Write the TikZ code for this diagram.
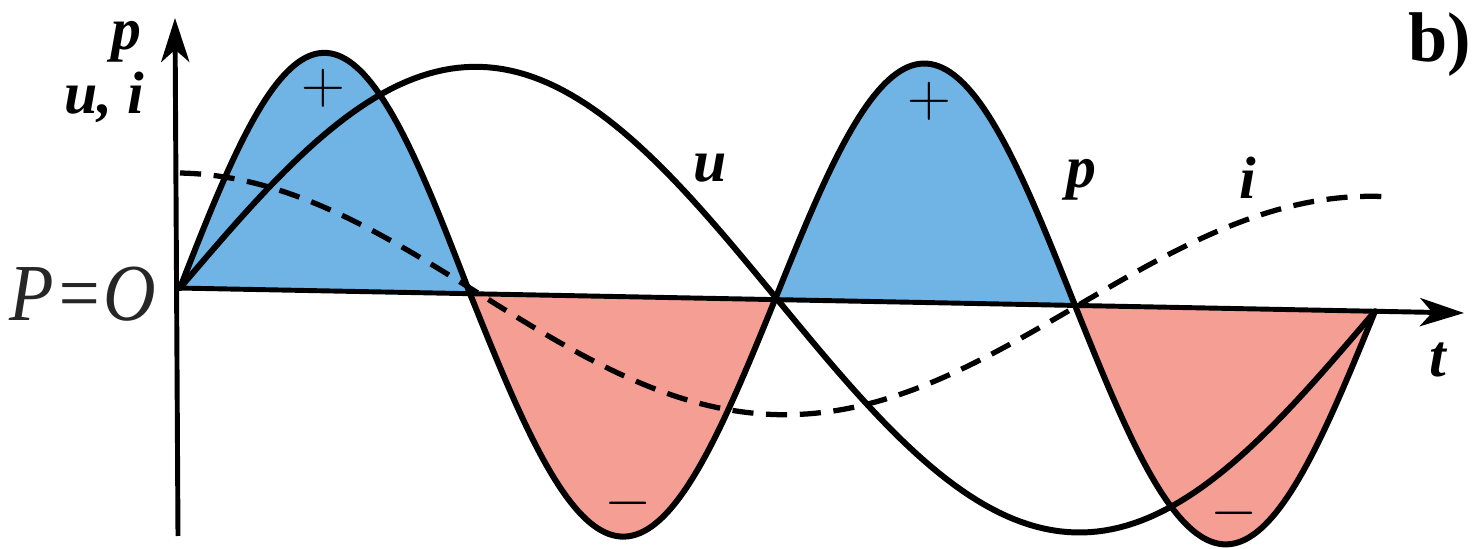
\documentclass[tikz,border=0pt]{standalone}
\usepackage{fontspec}
\setmainfont{Liberation Serif}
\usetikzlibrary{arrows.meta}
\definecolor{posfill}{RGB}{112,180,230}
\definecolor{negfill}{RGB}{245,158,148}
\begin{document}
\begin{tikzpicture}[x=0.01cm,y=-0.01cm,
  declare function={bl(\s)=288+0.0195*(\s-180);},
  curve/.style={line width=1.7pt,line join=round,line cap=round},
  icurve/.style={line width=1.5pt,dash pattern=on 6pt off 3.6pt},
  axisline/.style={line width=1.4pt,-{Stealth[length=12.5pt,width=8pt,inset=3.5pt]}},
  lbl/.style={font=\fontsize{17}{17}\selectfont\bfseries\itshape,inner sep=0pt},
  sign/.style={font=\fontsize{19}{19}\selectfont,inner sep=0pt}]
\useasboundingbox (0,0) rectangle (1472,549);
% fills
\fill[posfill] plot[domain=180:470,samples=80] (\x,{bl(\x)-238*sin((\x-180)/290*180)}) -- cycle;
\fill[negfill] plot[domain=470:775,samples=80] (\x,{bl(\x)+240*sin((\x-470)/305*180)}) -- cycle;
\fill[posfill] plot[domain=775:1075,samples=80] (\x,{bl(\x)-239*sin((\x-775)/300*180)}) -- cycle;
\fill[negfill] plot[domain=1075:1375,samples=80] (\x,{bl(\x)+236*sin((\x-1075)/300*180)}) -- cycle;
% i (dashed)
\draw[icurve] plot[domain=180:1382,samples=160] (\x,{bl(\x)-115*cos((\x-180)/1197*360)});
% u
\draw[curve] plot[domain=180:1375,samples=160] (\x,{bl(\x)-227*sin((\x-180)/1195*360)});
% p
\draw[curve] plot[domain=180:470,samples=80] (\x,{bl(\x)-238*sin((\x-180)/290*180)})
  -- plot[domain=470:775,samples=80] (\x,{bl(\x)+240*sin((\x-470)/305*180)})
  -- plot[domain=775:1075,samples=80] (\x,{bl(\x)-239*sin((\x-775)/300*180)})
  -- plot[domain=1075:1375,samples=80] (\x,{bl(\x)+236*sin((\x-1075)/300*180)});
% axes
\coordinate (O) at (177,288);
\coordinate (ytop) at (175,18);
\coordinate (ybot) at (178,536);
\coordinate (xend) at (1464,313);
\draw[axisline] (ybot) -- (ytop);
\draw[axisline] (O) -- (xend);
% labels
\node[lbl] (plab) at (126,42) {p};
\node[lbl] (uilab) at (104,97) {u, i};
\node[lbl] (ulab) at (710,168) {u};
\node[lbl] (plab2) at (1081,180) {p};
\node[lbl] (ilab) at (1248,178) {i};
\node[lbl] (tlab) at (1438,360) {t};
\node[font=\fontsize{20}{20}\selectfont\bfseries,inner sep=0pt] (blab) at (1440,45) {b)};
\node[font=\fontsize{23}{23}\selectfont\itshape,inner sep=0pt,xscale=0.9,text=black!85] (P0) at (83,294) {P=O};
\node[sign] (plus1) at (323,88) {$+$};
\node[sign] (plus2) at (929,101) {$+$};
\node[sign] (minus1) at (628,503) {$-$};
\node[sign] (minus2) at (1234,513) {$-$};
\end{tikzpicture}
\end{document}
